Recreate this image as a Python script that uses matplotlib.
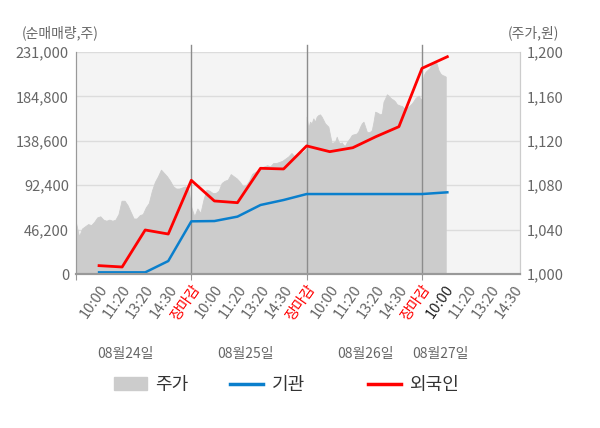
import numpy as np
import matplotlib
matplotlib.use("Agg")
from matplotlib import pyplot as plt
from matplotlib.patches import Patch
from matplotlib.lines import Line2D

plt.rcParams['font.family'] = ['Noto Sans CJK KR', 'DejaVu Sans']

# 주가 (원) - 일별 분봉 근사값
price_d1 = [1046, 1034, 1041, 1043, 1045, 1044, 1047, 1051, 1052, 1049, 1048, 1049, 1048,
            1049, 1054, 1066, 1066, 1062, 1056, 1050, 1050, 1053, 1054, 1060, 1064, 1075,
            1083, 1088, 1094, 1091, 1088, 1084, 1079, 1077, 1077, 1078, 1079, 1077, 1060]
price_d2 = [1075, 1052, 1059, 1055, 1067, 1076, 1075, 1073, 1073, 1075, 1082, 1084, 1085,
            1090, 1088, 1086, 1083, 1079, 1080, 1084, 1090, 1092, 1093, 1096, 1097, 1098,
            1097, 1100, 1100, 1101, 1102, 1104, 1106, 1109, 1106, 1107, 1109, 1110, 1113]
price_d3 = [1141.7, 1131.2, 1137.2, 1135.7, 1140.2, 1137.2, 1141.7, 1143.2, 1143.8, 1141.7,
            1138.7, 1135.7, 1134.2, 1132.7, 1125.2, 1117.7, 1118.6, 1119.2, 1123.7, 1119.2,
            1117.7, 1118.6, 1116.2, 1115.6, 1118.6, 1120.7, 1122.8, 1125.2, 1125.8, 1126.1,
            1126.7, 1128.8, 1132.7, 1135.7, 1137.2, 1132.7, 1128.2, 1127.6, 1128.2, 1129.7,
            1137.2, 1146.2, 1145.6, 1144.7, 1143.8, 1144.7, 1155.3, 1158.3, 1161.9, 1160.7,
            1158.9, 1157.7, 1156.8, 1155.3, 1152.9, 1152.3, 1151.7, 1151.4, 1149.8, 1149.2,
            1149.2, 1150.8, 1152.3, 1153.8, 1155.9, 1158.3, 1159.8, 1160.7, 1158.3, 1156.8]
price_d4 = [1170.3, 1179.3, 1182.3, 1183.8, 1185.3, 1188.3, 1189.8, 1191.3, 1189.8, 1183.8,
            1180.8, 1179.3, 1178.7, 1177.8]

# 순매매량 (주)
flow_x = [1, 2, 3, 4, 5, 6, 7, 8, 9, 10, 11, 12, 13, 14, 15, 16.1]
inst = [1700, 1700, 1700, 13500, 54800, 55100, 59700, 71800, 77000, 83200,
        83200, 83200, 83200, 83200, 83200, 85000]
foreign = [8700, 7300, 45800, 41600, 97500, 76000, 74200, 110000, 109300, 133300,
           127300, 131400, 142900, 153300, 214000, 226100]

tick_labels = ["10:00", "11:20", "13:20", "14:30", "장마감"] * 3 + ["10:00", "11:20", "13:20", "14:30"]
dates = ["08월24일", "08월25일", "08월26일", "08월27일"]
date_pos = [2.15, 7.35, 12.55, 15.8]
day_edges = [5, 10, 15]

left_ticks = [0, 46200, 92400, 138600, 184800, 231000]
right_ticks = [1000, 1040, 1080, 1120, 1160, 1200]

# 가격 x 좌표 (하루 = 5칸)
px = np.concatenate([np.linspace(0, 5, len(price_d1)),
                     np.linspace(5, 10, len(price_d2))[1:],
                     np.linspace(10, 15, len(price_d3)),
                     np.linspace(15, 16.03, len(price_d4))])
py = np.array(price_d1 + price_d2[1:] + price_d3 + price_d4)

fig = plt.figure(figsize=(6, 4.28), dpi=100)
ax = fig.add_axes([76/600, 1-274/428, 444/600, 222/428])
ax.set_facecolor("#f4f4f4")

ax.fill_between(px, 1000, py, color="#cccccc", lw=0.6, edgecolor="#cccccc")
ax.set_ylim(1000, 1200)
ax.set_xlim(0, 19.25)
ax.grid(axis="y", color="#dcdcdc", lw=1)
ax.set_axisbelow(True)

for d in day_edges:
    ax.axvline(d, ymin=0, ymax=1.03, color="#8c8c8c", lw=1, clip_on=False, zorder=3)

ax2 = ax.twinx()
ax2.plot(flow_x, inst, color="#0a7fcc", lw=1.8)
ax2.plot(flow_x, foreign, color="#ff0000", lw=2.0)
ax2.set_ylim(0, 231000)

# 가격축은 오른쪽, 순매매량축은 왼쪽
ax.yaxis.tick_right()
ax.set_yticks(right_ticks)
ax.set_yticklabels([f"{v:,}" for v in right_ticks])
ax2.yaxis.tick_left()
ax2.set_yticks(left_ticks)
ax2.set_yticklabels([f"{v:,}" for v in left_ticks])

for a in (ax, ax2):
    a.spines["top"].set_visible(False)
    a.spines["left"].set_color("#999999")
    a.spines["right"].set_color("#cccccc")
    a.spines["bottom"].set_color("#999999")
    a.spines["bottom"].set_linewidth(1.5)
    a.tick_params(axis="y", length=0, labelsize=10.5, labelcolor="#666666", pad=5)

ax.xaxis.remove_overlapping_locs = False
ax.set_xticks([0] + day_edges)
ax.set_xticklabels([])
ax.tick_params(axis="x", which="major", length=4, color="#999999")
ax.set_xticks(range(1, len(tick_labels) + 1), tick_labels, minor=True)
ax.tick_params(axis="x", which="minor", length=0, pad=6, labelsize=10.5,
               labelcolor="#666666")
for i, lab in enumerate(ax.get_xticklabels(minor=True)):
    lab.set_rotation(55)
    lab.set_ha("right")
    lab.set_rotation_mode("anchor")
    if tick_labels[i] == "장마감":
        lab.set_color("#ff0000")
    elif i == 15:
        lab.set_color("#222222")

for p, d in zip(date_pos, dates):
    ax.text(p, -0.36, d, transform=ax.get_xaxis_transform(), ha="center", va="center",
            fontsize=10, color="#666666")

fig.text(22/600, 1-33/428, "(순매매량,주)", fontsize=10, color="#666666", va="center")
fig.text(508/600, 1-33/428, "(주가,원)", fontsize=10, color="#666666", va="center")

# 범례
handles = [Patch(color="#cccccc", label="주가"),
           Line2D([], [], color="#0a7fcc", lw=2.5, label="기관"),
           Line2D([], [], color="#ff0000", lw=2.5, label="외국인")]
legend_x = [114, 230, 368]
for h, lx in zip(handles, legend_x):
    fig.legend(handles=[h], loc="center left", bbox_to_anchor=(lx/600, 1-385/428),
               frameon=False, fontsize=13, handlelength=1.8, handletextpad=0.5,
               borderpad=0, borderaxespad=0, labelcolor="#333333")

fig.savefig("out.png", dpi=100)
